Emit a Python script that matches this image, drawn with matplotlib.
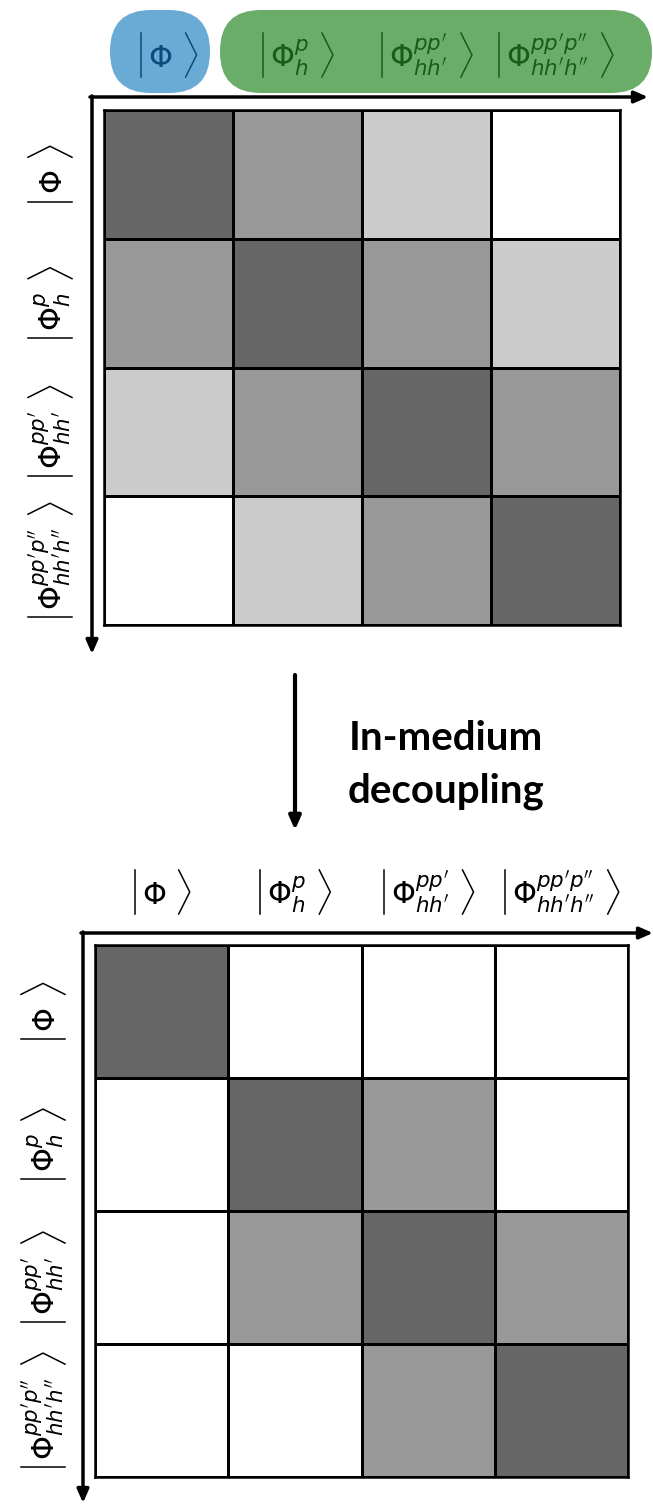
import numpy as np
import matplotlib
matplotlib.use("Agg")
import matplotlib.pyplot as plt
from matplotlib.colors import ListedColormap
from matplotlib.patches import FancyBboxPatch

W, H = 653, 1504

# state labels (inside of the kets)
states = [r'$\Phi$',
          r'$\Phi_{h}^{p}$',
          r"$\Phi_{hh'}^{pp'}$",
          r"$\Phi_{hh'h''}^{pp'p''}$"]

# coupling strength: 0 = none, 1 = weak, 2 = medium, 3 = strong
before = [[3, 2, 1, 0],
          [2, 3, 2, 1],
          [1, 2, 3, 2],
          [0, 1, 2, 3]]
after = [[3, 0, 0, 0],
         [0, 3, 2, 0],
         [0, 2, 3, 2],
         [0, 0, 2, 3]]

top_colors = ['#0b4a7c', '#175d17', '#175d17', '#175d17']

grays = ListedColormap(['#ffffff', '#cccccc', '#999999', '#666666'])


def box(x0, y0, x1, y1):
    return [x0 / W, 1 - y1 / H, (x1 - x0) / W, (y1 - y0) / H]


fig = plt.figure(figsize=(W / 100, H / 100), dpi=100)

# background layer in pixel coords for arrows, boxes, kets and caption
bg = fig.add_axes([0, 0, 1, 1])
bg.set_xlim(0, W)
bg.set_ylim(H, 0)
bg.axis('off')

bg.add_patch(FancyBboxPatch((110, 10), 100, 83, boxstyle='round,pad=0,rounding_size=41',
                            fc='#6aabd6', ec='none'))
bg.add_patch(FancyBboxPatch((220, 10), 432, 83, boxstyle='round,pad=0,rounding_size=41',
                            fc='#6aad69', ec='none'))

arrow = dict(arrowstyle='-|>,head_length=0.8,head_width=0.35', color='black', lw=2.5,
             shrinkA=0, shrinkB=0)
bg.annotate('', xy=(648, 97), xytext=(90, 97), arrowprops=arrow)
bg.annotate('', xy=(92, 654), xytext=(92, 96), arrowprops=arrow)
bg.annotate('', xy=(653, 933), xytext=(81, 933), arrowprops=arrow)
bg.annotate('', xy=(83, 1503), xytext=(83, 932), arrowprops=arrow)
bg.annotate('', xy=(295, 830), xytext=(295, 675), arrowprops=dict(arrow, lw=3))

bg.text(446, 738, 'In-medium', ha='center', va='center', fontsize=29,
        fontweight='bold', family='Lato')
bg.text(446, 791, 'decoupling', ha='center', va='center', fontsize=29,
        fontweight='bold', family='Lato')

panels = [(before, (104, 110, 620, 625), 55, 50, top_colors),
          (after, (95, 945, 628, 1477), 892, 43, ['black'] * 4)]

kets = []
for vals, (x0, y0, x1, y1), lab_y, lab_x, cols in panels:
    ax = fig.add_axes(box(x0, y0, x1, y1))
    n = len(vals)
    ax.pcolormesh(np.arange(n + 1), np.arange(n + 1), np.array(vals), cmap=grays,
                  vmin=-0.5, vmax=3.5, edgecolors='black', linewidth=1.8)
    ax.set_xlim(0, n)
    ax.set_ylim(n, 0)
    for s in ax.spines.values():
        s.set_linewidth(1.8)
    ax.set_xticks([])
    ax.set_yticks([])
    # cell centres in background pixel coords
    to_bg = ax.transData + bg.transData.inverted()
    centres = to_bg.transform(np.column_stack([np.arange(n) + 0.5] * 2))
    for k in range(n):
        cx, cy = centres[k]
        t = bg.text(cx - 8, lab_y + 12, states[k], ha='center', va='baseline',
                    rotation_mode='anchor', fontsize=22, color=cols[k])
        kets.append((t, 'h', cx, lab_y, cols[k]))
        t = bg.text(lab_x + 12, cy + 8, states[k], ha='center', va='baseline',
                    rotation=90, rotation_mode='anchor', fontsize=22, color='black')
        kets.append((t, 'v', lab_x, cy, 'black'))

# bars and angle brackets around each ket content
fig.canvas.draw()
r = fig.canvas.get_renderer()
inv = bg.transData.inverted()
for t, orient, a, b, c in kets:
    ext = inv.transform(t.get_window_extent(r).get_points())
    if orient == 'h':
        xa, xb = sorted(ext[:, 0])
        bg.plot([xa - 7, xa - 7], [b - 22, b + 22], color=c, lw=1.1)
        bg.plot([xb + 13, xb + 24, xb + 13], [b - 22, b, b + 22], color=c, lw=1.1)
    else:
        ya, yb = sorted(ext[:, 1])
        bg.plot([a - 22, a + 22], [yb + 7, yb + 7], color=c, lw=1.1)
        bg.plot([a - 22, a, a + 22], [ya - 13, ya - 24, ya - 13], color=c, lw=1.1)

fig.savefig('out.png', dpi=100)
